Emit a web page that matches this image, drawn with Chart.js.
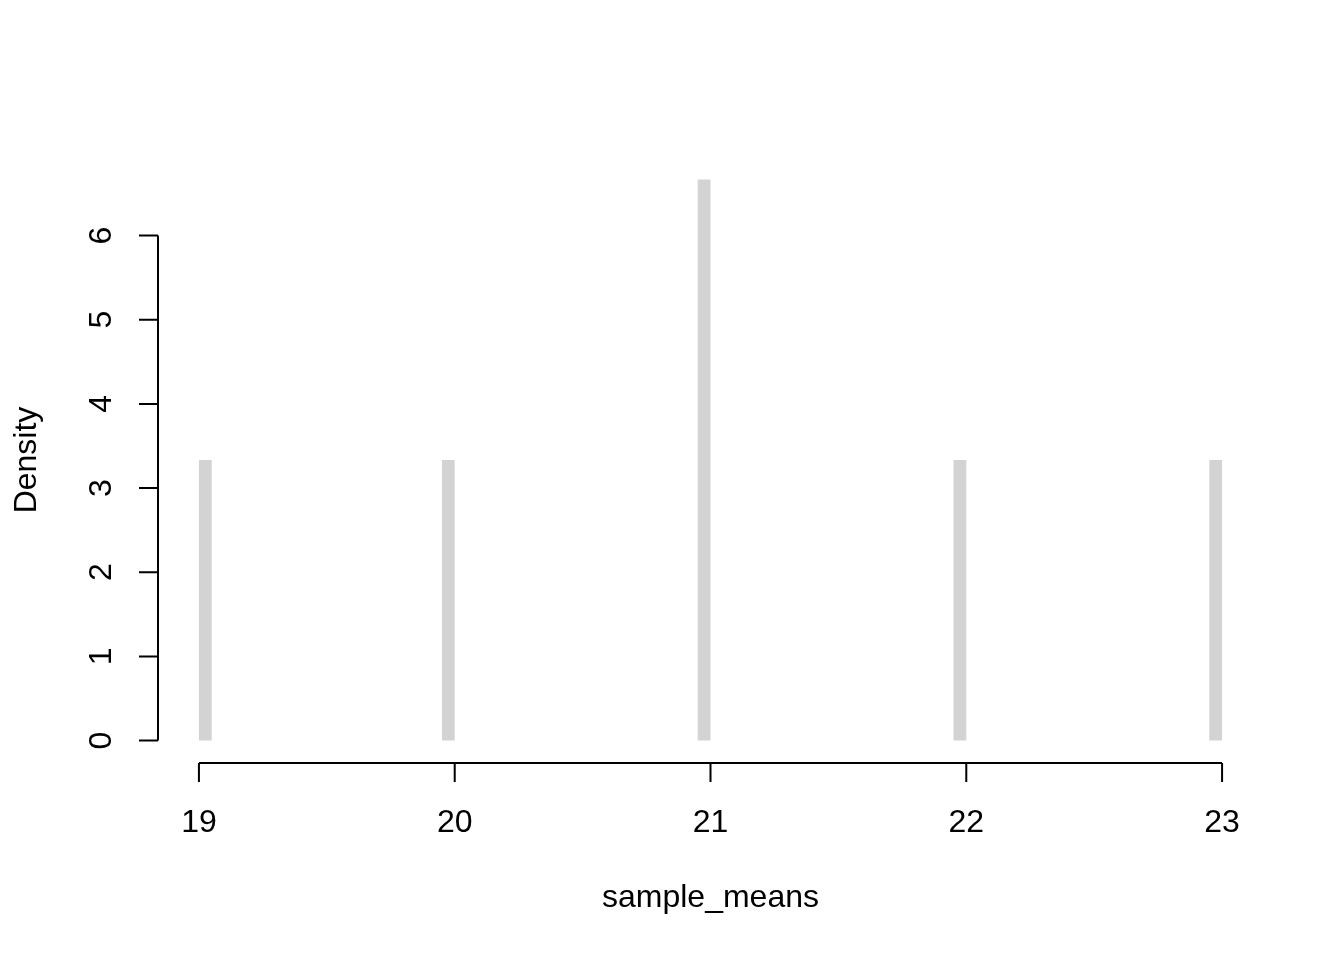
<!DOCTYPE html>
<html>
<head>
<meta charset="utf-8">
<script src="https://cdn.jsdelivr.net/npm/chart.js@4/dist/chart.umd.min.js"></script>
<style>
  html, body { margin: 0; padding: 0; background: #ffffff; }
  canvas { display: block; }
</style>
</head>
<body>
<canvas id="histChart" width="1344" height="960"></canvas>
<script>
// histogram bins (left edges), all the same width
const binStarts = [19.00, 19.95, 20.95, 21.95, 22.95];
const binWidth = 0.05;
const densities = [3.333, 3.333, 6.667, 3.333, 3.333];

const xTicks = [19, 20, 21, 22, 23];
const yTicks = [0, 1, 2, 3, 4, 5, 6];
const xRange = [18.84, 23.16];
const yRange = [-0.2667, 6.9333];

const xTitle = 'sample_means';
const yTitle = 'Density';

const fontSpec = '32px "Liberation Sans", Arial, sans-serif';

const barPoints = binStarts.map((start, i) => ({ x: start + binWidth / 2, y: densities[i] }));

// bar width on a linear axis comes from the smallest gap between points
let minGap = Infinity;
for (let i = 1; i < barPoints.length; i++) {
    minGap = Math.min(minGap, barPoints[i].x - barPoints[i - 1].x);
}

// R style axes: line only from first to last tick, ticks pointing out
const rAxes = {
    id: 'rAxes',
    afterDraw(chart) {
        const ctx = chart.ctx;
        const area = chart.chartArea;
        const xs = chart.scales.x;
        const ys = chart.scales.y;
        const tickLen = 19;

        ctx.save();
        ctx.strokeStyle = '#000000';
        ctx.fillStyle = '#000000';
        ctx.lineWidth = 2;
        ctx.font = fontSpec;

        // x axis
        const xa = xs.getPixelForValue(xTicks[0]);
        const xb = xs.getPixelForValue(xTicks[xTicks.length - 1]);
        const axisY = area.bottom;
        ctx.beginPath();
        ctx.moveTo(xa, axisY);
        ctx.lineTo(xb, axisY);
        xTicks.forEach(t => {
            const px = xs.getPixelForValue(t);
            ctx.moveTo(px, axisY);
            ctx.lineTo(px, axisY + tickLen);
        });
        ctx.stroke();

        ctx.textAlign = 'center';
        ctx.textBaseline = 'alphabetic';
        xTicks.forEach(t => {
            ctx.fillText(String(t), xs.getPixelForValue(t), axisY + 69);
        });
        ctx.fillText(xTitle, (area.left + area.right) / 2, axisY + 144);

        // y axis
        const ya = ys.getPixelForValue(yTicks[0]);
        const yb = ys.getPixelForValue(yTicks[yTicks.length - 1]);
        const axisX = area.left;
        ctx.beginPath();
        ctx.moveTo(axisX, ya);
        ctx.lineTo(axisX, yb);
        yTicks.forEach(t => {
            const py = ys.getPixelForValue(t);
            ctx.moveTo(axisX, py);
            ctx.lineTo(axisX - tickLen, py);
        });
        ctx.stroke();

        yTicks.forEach(t => {
            ctx.save();
            ctx.translate(axisX - 47, ys.getPixelForValue(t));
            ctx.rotate(-Math.PI / 2);
            ctx.fillText(String(t), 0, 0);
            ctx.restore();
        });

        ctx.save();
        ctx.translate(axisX - 122, (area.top + area.bottom) / 2);
        ctx.rotate(-Math.PI / 2);
        ctx.fillText(yTitle, 0, 0);
        ctx.restore();

        ctx.restore();
    }
};

const whiteBg = {
    id: 'whiteBg',
    beforeDraw(chart) {
        const ctx = chart.ctx;
        ctx.save();
        ctx.fillStyle = '#ffffff';
        ctx.fillRect(0, 0, chart.width, chart.height);
        ctx.restore();
    }
};

new Chart(document.getElementById('histChart'), {
    type: 'bar',
    data: {
        datasets: [{
            data: barPoints,
            backgroundColor: '#d3d3d3',
            borderWidth: 0,
            categoryPercentage: 1,
            barPercentage: binWidth / minGap
        }]
    },
    options: {
        responsive: false,
        animation: false,
        layout: {
            padding: { left: 158, right: 81, top: 157, bottom: 197 }
        },
        plugins: {
            legend: { display: false },
            tooltip: { enabled: false }
        },
        scales: {
            x: {
                type: 'linear',
                display: false,
                offset: false,
                min: xRange[0],
                max: xRange[1],
                // keep the tick list to the labelled values so the bar ruler uses the data gap
                afterBuildTicks: scale => {
                    scale.ticks = xTicks.map(v => ({ value: v }));
                }
            },
            y: {
                type: 'linear',
                display: false,
                min: yRange[0],
                max: yRange[1]
            }
        }
    },
    plugins: [whiteBg, rAxes]
});
</script>
</body>
</html>
